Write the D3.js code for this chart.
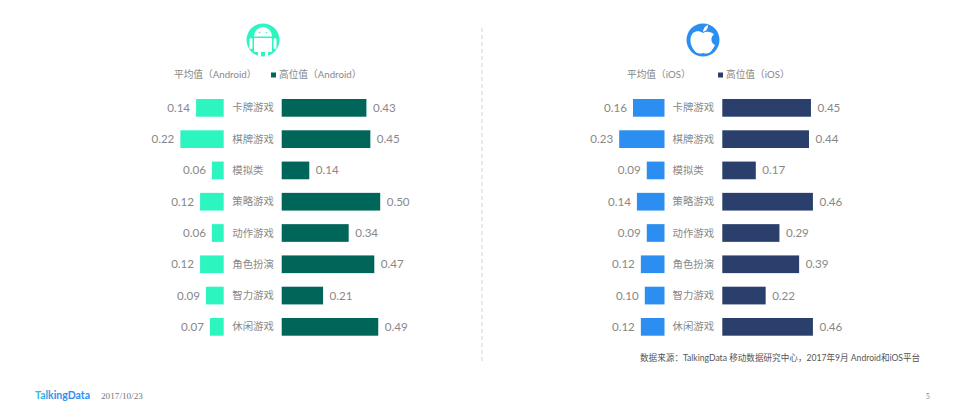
<!DOCTYPE html>
<html>
<head>
<meta charset="utf-8">
<script src="https://cdn.jsdelivr.net/npm/d3@7"></script>
<style>
  html, body { margin: 0; background: #fff; }
  svg { display: block; font-family: Lato, "Noto Sans CJK SC", sans-serif; }
</style>
</head>
<body>
<svg id="chart" width="965" height="420"></svg>
<script>
var categories = ["卡牌游戏", "棋牌游戏", "模拟类", "策略游戏", "动作游戏", "角色扮演", "智力游戏", "休闲游戏"];
var androidAvg = [0.14, 0.22, 0.06, 0.12, 0.06, 0.12, 0.09, 0.07];
var androidHigh = [0.43, 0.45, 0.14, 0.50, 0.34, 0.47, 0.21, 0.49];
var iosAvg = [0.16, 0.23, 0.09, 0.14, 0.09, 0.12, 0.10, 0.12];
var iosHigh = [0.45, 0.44, 0.17, 0.46, 0.29, 0.39, 0.22, 0.46];

var svg = d3.select("#chart");
var grey = "#888";

var y = d3.scaleBand().domain(categories).range([99, 335.7]).paddingInner(0.434);

function panel(avg, high, o) {
  var g = svg.append("g");
  var left = d3.scaleLinear().domain([0, 1]).range([o.leftEnd, o.leftEnd - 197]);
  var right = d3.scaleLinear().domain([0, 1]).range([o.rightStart, o.rightStart + 197]);

  g.selectAll(".avg").data(avg).enter().append("rect")
      .attr("class", "avg")
      .attr("x", function(d) { return left(d); })
      .attr("y", function(d, i) { return y(categories[i]); })
      .attr("width", function(d) { return left(0) - left(d); })
      .attr("height", y.bandwidth())
      .attr("fill", o.avgColor);

  g.selectAll(".high").data(high).enter().append("rect")
      .attr("class", "high")
      .attr("x", right(0))
      .attr("y", function(d, i) { return y(categories[i]); })
      .attr("width", function(d) { return right(d) - right(0); })
      .attr("height", y.bandwidth())
      .attr("fill", o.highColor);

  g.selectAll(".avg-label").data(avg).enter().append("text")
      .attr("class", "avg-label")
      .attr("x", function(d) { return left(d) - 6; })
      .attr("y", function(d, i) { return y(categories[i]) + y.bandwidth() / 2; })
      .attr("dy", "0.35em")
      .attr("text-anchor", "end")
      .attr("font-size", 11.6)
      .attr("fill", grey)
      .text(function(d) { return d.toFixed(2); });

  g.selectAll(".high-label").data(high).enter().append("text")
      .attr("class", "high-label")
      .attr("x", function(d) { return right(d) + 6.5; })
      .attr("y", function(d, i) { return y(categories[i]) + y.bandwidth() / 2; })
      .attr("dy", "0.35em")
      .attr("font-size", 11.6)
      .attr("fill", grey)
      .text(function(d) { return d.toFixed(2); });

  g.selectAll(".cat").data(categories).enter().append("text")
      .attr("class", "cat")
      .attr("x", o.catX)
      .attr("y", function(d) { return y(d) + y.bandwidth() / 2; })
      .attr("dy", "0.35em")
      .attr("font-size", 10.4)
      .attr("fill", grey)
      .text(function(d) { return d; });

  // legend
  g.append("text").attr("x", o.legend1).attr("y", 78).attr("font-size", 9.7).attr("fill", grey).text(o.avgName);
  g.append("rect").attr("x", o.legendBox).attr("y", 72.5).attr("width", 5).attr("height", 5).attr("fill", o.highColor);
  g.append("text").attr("x", o.legendBox + 8).attr("y", 78).attr("font-size", 9.7).attr("fill", grey).text(o.highName);
}

panel(androidAvg, androidHigh, {
  leftEnd: 223.7, rightStart: 281.7, catX: 232.3,
  avgColor: "#2df5c0", highColor: "#01665a",
  avgName: "平均值（Android）", highName: "高位值（Android）",
  legend1: 174, legendBox: 271
});

panel(iosAvg, iosHigh, {
  leftEnd: 664.5, rightStart: 722.3, catX: 672.5,
  avgColor: "#2b8ef0", highColor: "#2b3f6c",
  avgName: "平均值（iOS）", highName: "高位值（iOS）",
  legend1: 627, legendBox: 718
});

// divider
svg.append("line")
    .attr("x1", 482).attr("x2", 482).attr("y1", 28).attr("y2", 361)
    .attr("stroke", "#e2e2e2").attr("stroke-width", 1.5).attr("stroke-dasharray", "4 3");

// android icon
var droid = svg.append("g").attr("transform", "translate(263,40)");
droid.append("circle").attr("r", 16.5).attr("fill", "#2df5c0");
droid.append("path").attr("fill", "#fff")
    .attr("d", "M-9,-3.5A9,9.5 0 0 1 9,-3.5Z");
droid.append("rect").attr("x", -9).attr("y", -2).attr("width", 18).attr("height", 14).attr("rx", 1).attr("fill", "#fff");
droid.append("rect").attr("x", -13.5).attr("y", -2).attr("width", 3).attr("height", 11).attr("rx", 1.5).attr("fill", "#fff");
droid.append("rect").attr("x", 10.5).attr("y", -2).attr("width", 3).attr("height", 11).attr("rx", 1.5).attr("fill", "#fff");
droid.append("rect").attr("x", -5).attr("y", 11).attr("width", 3).attr("height", 5.5).attr("fill", "#fff");
droid.append("rect").attr("x", 2).attr("y", 11).attr("width", 3).attr("height", 5.5).attr("fill", "#fff");
droid.append("circle").attr("cx", -3.5).attr("cy", -7.5).attr("r", 0.8).attr("fill", "#2df5c0");
droid.append("circle").attr("cx", 3.5).attr("cy", -7.5).attr("r", 0.8).attr("fill", "#2df5c0");

// apple icon
var apple = svg.append("g").attr("transform", "translate(703,40)");
apple.append("circle").attr("r", 16.5).attr("fill", "#2b8ef0");
apple.append("path").attr("fill", "#fff")
    .attr("d", "M0,-7C-3,-9 -7,-9.5 -10,-7C-14,-3 -13,5 -9,10C-6.5,14 -3,14 0,13C3,14 6.5,14 9,10C10.5,8 11.5,6 12,5C8,3.5 7,-3 11,-5.5C8,-9 3,-9 0,-7Z");
apple.append("path").attr("fill", "#fff")
    .attr("d", "M0,-8C0,-11 2,-14 5,-15C5,-11 3,-9 0,-8Z");

// footer
svg.append("text").attr("x", 640).attr("y", 361).attr("font-size", 8.6).attr("fill", "#555")
    .text("数据来源：TalkingData 移动数据研究中心，2017年9月 Android和iOS平台");

var grad = svg.append("defs").append("linearGradient").attr("id", "brand");
grad.append("stop").attr("offset", "0%").attr("stop-color", "#2fc6d8");
grad.append("stop").attr("offset", "35%").attr("stop-color", "#2b8ef0");
grad.append("stop").attr("offset", "100%").attr("stop-color", "#2b8ef0");

svg.append("text").attr("x", 35).attr("y", 399).attr("font-size", 10.5).attr("font-weight", 700)
    .attr("fill", "url(#brand)").text("TalkingData");
svg.append("text").attr("x", 101).attr("y", 399).attr("font-size", 9.2).attr("fill", "#777")
    .attr("font-family", "'Liberation Serif', serif").text("2017/10/23");
svg.append("text").attr("x", 926).attr("y", 399).attr("font-size", 7.5).attr("fill", "#777")
    .attr("font-family", "'Liberation Serif', serif").text("5");
</script>
</body>
</html>
